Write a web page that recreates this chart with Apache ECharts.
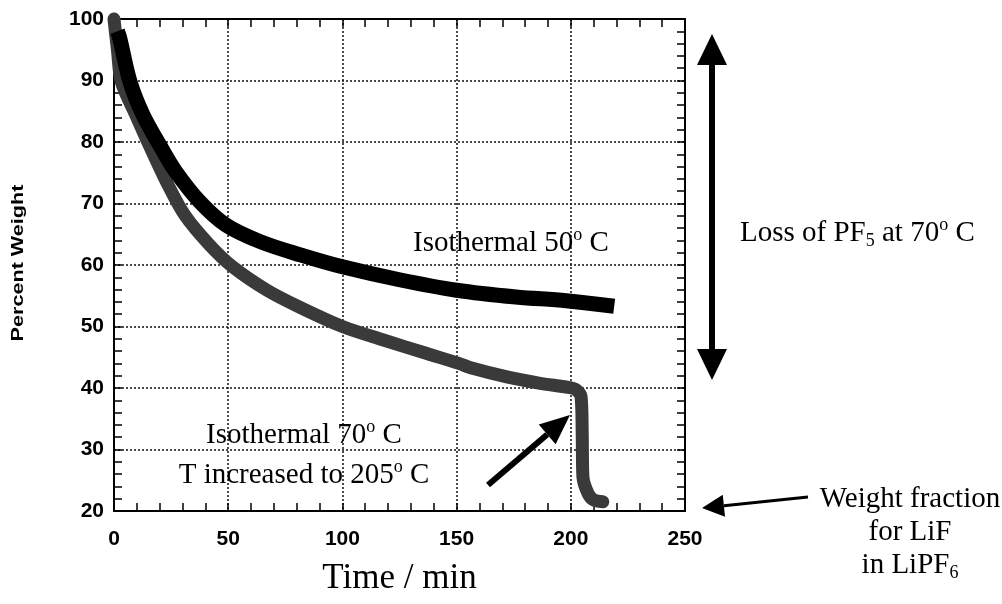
<!DOCTYPE html>
<html>
<head>
<meta charset="utf-8">
<script src="https://cdn.jsdelivr.net/npm/echarts@6/dist/echarts.min.js"></script>
<style>
  html, body { margin: 0; padding: 0; background: #fff; }
  #mychart { width: 1002px; height: 604px; }
</style>
</head>
<body>
<div id="mychart"></div>
<script>
// isothermal 70 C, then heated to 205 C (grey trace)
var time70 = [0, 1.5, 3.2, 9.5, 16, 23, 31, 42, 52, 67, 81, 100, 118, 137, 151, 157, 172, 186, 199, 202, 204.5, 205, 205.3, 207.5, 210, 214]
var weight70 = [100, 95, 89.8, 84.4, 79, 73.5, 68.1, 63.2, 59.7, 55.9, 53.2, 50.0, 47.8, 45.6, 44.0, 43.2, 41.8, 40.8, 40.1, 39.8, 38.6, 32.6, 25.6, 22.9, 21.8, 21.5]
// isothermal 50 C (black trace)
var time50 = [1.5, 2.5, 7, 12.7, 20, 27, 37.5, 49, 64, 82, 100, 125, 150, 176, 198, 219]
var weight50 = [98, 96.9, 89.8, 84.4, 79.5, 75.2, 70.3, 66.5, 63.8, 61.6, 59.7, 57.6, 55.9, 54.8, 54.2, 53.3]

var xMin = 0, xMax = 250, xStep = 50
var yMin = 20, yMax = 100, yStep = 10

function pairs(xs, ys) {
    var out = []
    for (var i = 0; i < xs.length; i++) out.push([xs[i], ys[i]])
    return out
}

var sans = 'Liberation Sans, Arial, sans-serif'
var serif = 'Liberation Serif, Times New Roman, serif'

function axis(pos, labels, grid) {
    var isX = pos === 'bottom' || pos === 'top'
    return {
        type: 'value',
        position: pos,
        min: isX ? xMin : yMin,
        max: isX ? xMax : yMax,
        interval: isX ? xStep : yStep,
        axisLine: { show: true, onZero: false, lineStyle: { color: '#000', width: 2 } },
        axisTick: { show: true, inside: true, length: 8, lineStyle: { color: '#000', width: 1.5 } },
        minorTick: { show: true, splitNumber: 5, length: 8, lineStyle: { color: '#000', width: 1.5 } },
        axisLabel: {
            show: labels,
            color: '#000',
            fontFamily: sans,
            fontWeight: 'bold',
            fontSize: 21,
            margin: isX ? 18 : 10
        },
        splitLine: { show: grid, lineStyle: { color: '#111', width: 1.5, type: [2, 2] } }
    }
}

var supStyle = { fontSize: 18, fontFamily: serif, fill: '#000', verticalAlign: 'top', lineHeight: 18 }
var subStyle = { fontSize: 18, fontFamily: serif, fill: '#000', verticalAlign: 'bottom', lineHeight: 20 }
var baseStyle = { fontSize: 29, fontFamily: serif, fill: '#000', lineHeight: 34 }

function label(x, y, text, align) {
    return {
        type: 'text',
        x: x,
        y: y,
        z: 10,
        style: {
            text: text,
            fill: '#000',
            font: '29px ' + serif,
            align: align || 'left',
            verticalAlign: 'middle',
            rich: { n: baseStyle, sup: supStyle, sub: subStyle }
        }
    }
}

function arrow(x1, y1, x2, y2, shaft, headLen, headHalf) {
    var dx = x2 - x1, dy = y2 - y1
    var len = Math.sqrt(dx * dx + dy * dy)
    var ux = dx / len, uy = dy / len
    var bx = x2 - ux * headLen, by = y2 - uy * headLen
    return [{
        type: 'line',
        z: 10,
        shape: { x1: x1, y1: y1, x2: bx, y2: by },
        style: { stroke: '#000', lineWidth: shaft }
    }, {
        type: 'polygon',
        z: 10,
        shape: { points: [[x2, y2], [bx - uy * headHalf, by + ux * headHalf], [bx + uy * headHalf, by - ux * headHalf]] },
        style: { fill: '#000' }
    }]
}

var graphics = []
    .concat(arrow(712, 207, 712, 34, 6, 31, 15))
    .concat(arrow(712, 207, 712, 380, 6, 31, 15))
    .concat(arrow(488, 485, 570, 415, 6, 30, 13))
    .concat(arrow(808, 497, 702, 508, 3, 22, 11))
    .concat([
        label(413, 243, '{n|Isothermal 50}{sup|o}{n| C}'),
        label(304, 435, '{n|Isothermal 70}{sup|o}{n| C}', 'center'),
        label(304, 475, '{n|T increased to 205}{sup|o}{n| C}', 'center'),
        label(740, 233, '{n|Loss of PF}{sub|5}{n| at 70}{sup|o}{n| C}'),
        label(910, 499, '{n|Weight fraction}', 'center'),
        label(910, 532, '{n|for LiF}', 'center'),
        label(910, 565, '{n|in LiPF}{sub|6}', 'center'),
        {
            type: 'text',
            x: 18.5,
            y: 263,
            rotation: Math.PI / 2,
            scaleX: 1.35,
            z: 10,
            style: {
                text: 'Percent Weight',
                fill: '#000',
                font: 'bold 16px ' + sans,
                align: 'center',
                verticalAlign: 'middle'
            }
        }
    ])

var chart = echarts.init(document.getElementById('mychart'))
var xBottom = axis('bottom', true, true)
xBottom.name = 'Time / min'
xBottom.nameLocation = 'middle'
xBottom.nameGap = 50
xBottom.nameTextStyle = { color: '#000', fontFamily: serif, fontSize: 35 }

var option = {
    backgroundColor: '#fff',
    animation: false,
    grid: {
        left: 114,
        right: 317,
        top: 19,
        bottom: 93,
        containLabel: false,
        outerBoundsMode: 'none'
    },
    xAxis: [xBottom, axis('top', false, false)],
    yAxis: [axis('left', true, true), axis('right', false, false)],
    series: [{
        name: 'Isothermal 70 C',
        type: 'line',
        xAxisIndex: 0,
        yAxisIndex: 0,
        showSymbol: false,
        clip: false,
        smooth: 0.3,
        z: 3,
        lineStyle: { color: '#3a3a3a', width: 13, cap: 'round', join: 'round' },
        data: pairs(time70, weight70)
    }, {
        name: 'Isothermal 50 C',
        type: 'line',
        xAxisIndex: 0,
        yAxisIndex: 0,
        showSymbol: false,
        clip: false,
        smooth: 0.35,
        z: 4,
        lineStyle: { color: '#000', width: 15, cap: 'butt', join: 'round' },
        data: pairs(time50, weight50)
    }],
    graphic: graphics
}
chart.setOption(option)
</script>
</body>
</html>
